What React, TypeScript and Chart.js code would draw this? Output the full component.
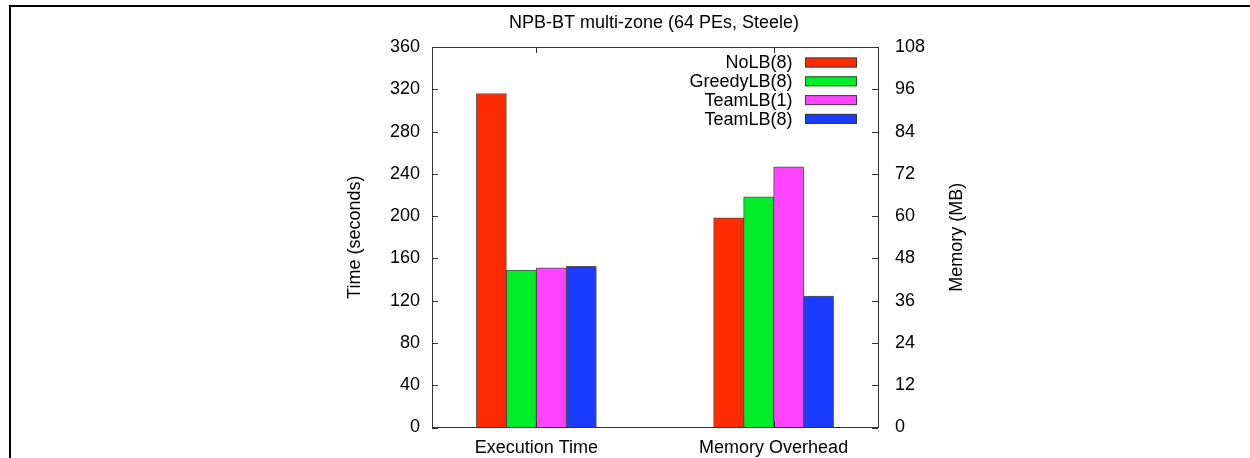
import React, { useEffect, useRef } from 'react';
import { Chart, registerables } from 'chart.js';

Chart.register(...registerables);

const TITLE = 'NPB-BT multi-zone (64 PEs, Steele)';
const Y_TITLE = 'Time (seconds)';
const Y2_TITLE = 'Memory (MB)';
const CATEGORIES = ['Execution Time', 'Memory Overhead'];
const SERIES = ['NoLB(8)', 'GreedyLB(8)', 'TeamLB(1)', 'TeamLB(8)'];
const TIME_SECONDS = [316, 149, 151, 152.5];
const MEMORY_MB = [59.5, 65.5, 74, 37.3];
const TIME_MAX = 360;
const TIME_STEP = 40;
const MEMORY_MAX = 108;
const MEMORY_STEP = 12;

const COLORS = ['#ff2a00', '#00ee2a', '#ff44ff', '#1a3cff'];
const BAR_BORDER = 'rgba(50,50,50,0.85)';
const AXIS_COLOR = '#333';
const FONT = "'Liberation Sans', Arial, Helvetica, sans-serif";

const framePlugin = {
  id: 'gnuplotFrame',
  afterDatasetsDraw(chart: any) {
    const { ctx, chartArea, scales } = chart;
    const { left, right, top, bottom } = chartArea;
    const al = (v: number) => Math.round(v) + 0.5;
    const line = (x1: number, y1: number, x2: number, y2: number) => {
      ctx.beginPath();
      ctx.moveTo(x1, y1);
      ctx.lineTo(x2, y2);
      ctx.stroke();
    };
    ctx.save();
    ctx.strokeStyle = AXIS_COLOR;
    ctx.lineWidth = 1;
    // top border
    line(left, al(top), right, al(top));
    const tl = 6;
    scales.y.ticks.forEach((t: any) => {
      const py = al(scales.y.getPixelForValue(t.value));
      line(left, py, left + tl, py);
    });
    scales.y2.ticks.forEach((t: any) => {
      const py = al(scales.y2.getPixelForValue(t.value));
      line(right - tl, py, right, py);
    });
    scales.x.ticks.forEach((t: any) => {
      const px = al(scales.x.getPixelForValue(t.value));
      line(px, bottom, px, bottom - tl);
      line(px, top, px, top + tl);
    });

    // legend (text left of swatch, right-aligned)
    ctx.font = `18px ${FONT}`;
    ctx.textAlign = 'right';
    ctx.textBaseline = 'middle';
    SERIES.forEach((name, i) => {
      const cy = top + 15.5 + i * 18.8;
      ctx.fillStyle = '#000';
      ctx.fillText(name, right - 85.5, cy + 1);
      ctx.fillStyle = COLORS[i];
      ctx.fillRect(right - 73, cy - 5, 52, 10);
      ctx.strokeStyle = BAR_BORDER;
      ctx.strokeRect(right - 72.5, cy - 4.5, 51, 9);
    });

    // right axis title, reading bottom to top
    ctx.save();
    ctx.translate(957, (top + bottom) / 2);
    ctx.rotate(-Math.PI / 2);
    ctx.textAlign = 'center';
    ctx.textBaseline = 'middle';
    ctx.fillStyle = '#000';
    ctx.fillText(Y2_TITLE, 0, 0);
    ctx.restore();
    ctx.restore();
  },
};

export default function App() {
  const ref = useRef<HTMLCanvasElement>(null);

  useEffect(() => {
    if (!ref.current) return;
    Chart.defaults.font.family = FONT;
    Chart.defaults.font.size = 18;
    Chart.defaults.color = '#000';

    const common = {
      borderColor: BAR_BORDER,
      borderWidth: 1,
      barThickness: 30,
      skipNull: true,
    };
    const datasets: any[] = [
      ...SERIES.map((name, i) => ({
        ...common,
        label: name,
        yAxisID: 'y',
        backgroundColor: COLORS[i],
        data: [
          { x: 0, y: TIME_SECONDS[i] },
          { x: 1, y: null },
        ],
      })),
      ...SERIES.map((name, i) => ({
        ...common,
        label: name,
        yAxisID: 'y2',
        backgroundColor: COLORS[i],
        data: [
          { x: 0, y: null },
          { x: 1, y: MEMORY_MB[i] },
        ],
      })),
    ];

    const chart = new Chart(ref.current, {
      type: 'bar',
      data: { datasets },
      options: {
        animation: false,
        responsive: false,
        layout: { padding: { left: 330, right: 272, top: 0, bottom: 0 } },
        plugins: {
          legend: { display: false },
          tooltip: { enabled: false },
          title: {
            display: true,
            text: TITLE,
            color: '#000',
            font: { size: 18, weight: 'normal', family: FONT },
            padding: { top: 12.7, bottom: 12.7 },
          },
        },
        scales: {
          x: {
            type: 'linear',
            min: -0.44,
            max: 1.44,
            offset: false,
            afterBuildTicks: (scale: any) => {
              scale.ticks = CATEGORIES.map((_, i) => ({ value: i }));
            },
            afterFit: (scale: any) => {
              scale.height = 30.5;
            },
            ticks: {
              padding: 10,
              maxRotation: 0,
              autoSkip: false,
              callback: (v: any) => CATEGORIES[v as number] ?? '',
            },
            grid: { drawOnChartArea: false, drawTicks: false },
            border: { display: true, color: AXIS_COLOR, width: 1 },
          },
          y: {
            type: 'linear',
            position: 'left',
            min: 0,
            max: TIME_MAX,
            ticks: { stepSize: TIME_STEP, padding: 12 },
            afterFit: (scale: any) => {
              scale.width = 102;
            },
            title: {
              display: true,
              text: Y_TITLE,
              font: { size: 18, family: FONT },
              padding: { top: 14, bottom: 0 },
            },
            grid: { drawOnChartArea: false, drawTicks: false },
            border: { display: true, color: AXIS_COLOR, width: 1 },
          },
          y2: {
            type: 'linear',
            position: 'right',
            min: 0,
            max: MEMORY_MAX,
            ticks: { stepSize: MEMORY_STEP, padding: 17 },
            afterFit: (scale: any) => {
              scale.width = 100;
            },
            grid: { drawOnChartArea: false, drawTicks: false },
            border: { display: true, color: AXIS_COLOR, width: 1 },
          },
        },
      } as any,
      plugins: [framePlugin],
    });
    return () => chart.destroy();
  }, []);

  return (
    <div
      style={{
        position: 'absolute',
        left: 0,
        top: 0,
        width: 1250,
        height: 458,
        background: '#fff',
        overflow: 'hidden',
      }}
    >
      <div
        style={{
          position: 'absolute',
          left: 9,
          top: 5,
          right: -10,
          bottom: -10,
          borderTop: '2px solid #000',
          borderLeft: '2px solid #000',
        }}
      />
      <canvas
        ref={ref}
        width={1250}
        height={458}
        style={{ position: 'absolute', left: 0, top: 0, width: 1250, height: 458 }}
      />
    </div>
  );
}
